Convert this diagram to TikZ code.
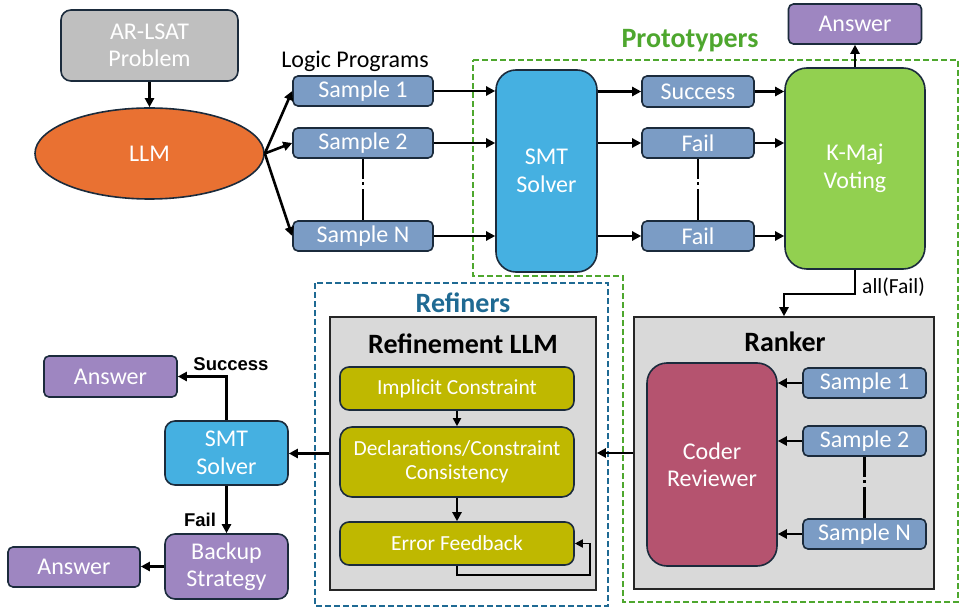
\documentclass[tikz,border=0pt]{standalone}
\usepackage{fontspec}
\setmainfont{Carlito}
\newfontfamily\lblfont{Liberation Sans}
\usetikzlibrary{arrows.meta,shapes.geometric}
\definecolor{bordc}{HTML}{1B2B3C}
\definecolor{grayfill}{HTML}{BFBFBF}
\definecolor{llmorange}{HTML}{E97132}
\definecolor{sampblue}{HTML}{7B9CC5}
\definecolor{smtblue}{HTML}{45B0E1}
\definecolor{kgreen}{HTML}{92D050}
\definecolor{anspurple}{HTML}{9E86C1}
\definecolor{coderred}{HTML}{B5536F}
\definecolor{olive}{HTML}{BFB800}
\definecolor{panelgray}{HTML}{D9D9D9}
\definecolor{protogreen}{HTML}{4EA72E}
\definecolor{refteal}{HTML}{1F6A93}
\tikzset{
  box/.style={draw=bordc, line width=1.6pt, rounded corners=5pt, text=white,
    font=\fontsize{24}{27.5}\selectfont, inner sep=0pt, align=center},
  sampbox/.style={box, fill=sampblue, minimum width=140pt, minimum height=30pt},
  rsampbox/.style={box, fill=sampblue, minimum width=123pt, minimum height=30pt},
  ansbox/.style={box, fill=anspurple, minimum width=133pt, minimum height=40pt},
  olivebox/.style={box, fill=olive, rounded corners=9pt, minimum width=234pt,
    font=\fontsize{21.5}{24.5}\selectfont},
  panel/.style={draw=black!85, line width=1.6pt, fill=panelgray},
  arr/.style={line width=2.6pt, -{Triangle[length=9pt,width=9pt]}},
  thinarr/.style={line width=1.8pt, -{Triangle[length=8pt,width=8pt]}},
  dashdotline/.style={line width=2.6pt, dash pattern=on 20pt off 3.5pt on 2.5pt off 4pt on 50pt off 2pt},
  boldlabel/.style={font=\bfseries\fontsize{28}{32}\selectfont, inner sep=0pt},
  smalllabel/.style={font=\lblfont\bfseries\fontsize{18.5}{22}\selectfont, inner sep=0pt},
}
\begin{document}
\begin{tikzpicture}[x=1pt,y=-1pt]
\useasboundingbox[fill=white] (0,0) rectangle (965,609);

% group frames
\draw[protogreen, line width=1.5pt, dash pattern=on 6pt off 3pt]
  (473,60) -- (958,60) -- (958,602) -- (623,602) -- (623,276) -- (473,276) -- cycle;
\draw[refteal, line width=1.5pt, dash pattern=on 6pt off 3pt] (315,283) rectangle (608,606);
\node[boldlabel, text=protogreen] (protolbl) at (690,41) {Prototypers};
\node[boldlabel, text=refteal] (reflbl) at (463,303) {Refiners};

% top row
\node[box, fill=grayfill, rounded corners=10pt, minimum width=177pt, minimum height=71pt] (arlsat) at (149.5,45.5) {AR-LSAT\\Problem};
\node[draw=bordc, line width=1.6pt, fill=llmorange, ellipse, minimum width=229pt, minimum height=91pt, inner sep=0pt,
  text=white, font=\fontsize{24}{27.5}\selectfont] (llm) at (149.5,153.5) {LLM};
\node[font=\fontsize{24}{27.5}\selectfont, inner sep=0pt] (lp) at (355,61) {Logic Programs};
\node[sampbox] (s1) at (363,91) {Sample 1};
\node[sampbox] (s2) at (363,143) {Sample 2};
\node[sampbox] (sN) at (363,236) {Sample N};

\node[box, fill=smtblue, rounded corners=20pt, minimum width=101pt, minimum height=202pt] (smt1) at (546.5,171) {SMT\\Solver};
\node[sampbox, minimum width=112pt, minimum height=31pt] (succ) at (698,91.5) {Success};
\node[sampbox, minimum width=112pt] (f1) at (698,143) {Fail};
\node[sampbox, minimum width=112pt] (f2) at (698,236) {Fail};
\node[box, fill=kgreen, rounded corners=22pt, minimum width=140pt, minimum height=201pt] (kmaj) at (855,168.5) {K-Maj\\Voting};
\node[ansbox] (ans1) at (855,24) {Answer};

% ranker
\node[panel, minimum width=300pt, minimum height=272pt, inner sep=0pt] (ranker) at (784,453) {};
\node[boldlabel] (rankerlbl) at (785,342) {Ranker};
\node[box, fill=coderred, rounded corners=20pt, minimum width=130pt, minimum height=203pt] (coder) at (712,464.5) {Coder\\Reviewer};
\node[rsampbox] (rs1) at (864.5,383) {Sample 1};
\node[rsampbox] (rs2) at (864.5,441) {Sample 2};
\node[rsampbox] (rsN) at (864.5,534) {Sample N};

% refinement LLM
\node[panel, minimum width=266pt, minimum height=273pt, inner sep=0pt] (refllm) at (463,453.5) {};
\node[boldlabel] (refllmlbl) at (463,344) {Refinement LLM};
\node[olivebox, minimum height=43pt] (imp) at (457,388.5) {Implicit Constraint};
\node[olivebox, rounded corners=12pt, minimum height=70pt] (decl) at (457,462) {Declarations/Constraint\\Consistency};
\node[olivebox, minimum height=43pt] (err) at (457,543.5) {Error Feedback};

% bottom-left
\node[box, fill=smtblue, rounded corners=10pt, minimum width=123pt, minimum height=64pt] (smt2) at (226.5,453) {SMT\\Solver};
\node[ansbox, minimum height=41pt] (ans2) at (110.5,376.5) {Answer};
\node[box, fill=anspurple, rounded corners=10pt, minimum width=123pt, minimum height=65pt] (backup) at (226.5,566.5) {Backup\\Strategy};
\node[ansbox, minimum width=132pt] (ans3) at (74,567) {Answer};
\node[smalllabel] (succlbl) at (231,364) {Success};
\node[smalllabel] (faillbl) at (200,520) {Fail};

% connectors
\draw[arr] (arlsat.south) -- (llm.north);
\draw[arr] (llm.east) -- (s1.west);
\draw[arr] (llm.east) -- (s2.west);
\draw[arr] (llm.east) -- (sN.west);
\draw[dashdotline] (s2.south) -- (sN.north);
\draw[arr] (s1.east) -- (s1.east -| smt1.west);
\draw[arr] (s2.east) -- (s2.east -| smt1.west);
\draw[arr] (sN.east) -- (sN.east -| smt1.west);
\draw[arr] (succ.west -| smt1.east) -- (succ.west);
\draw[arr] (f1.west -| smt1.east) -- (f1.west);
\draw[arr] (f2.west -| smt1.east) -- (f2.west);
\draw[dashdotline] (f1.south) -- (f2.north);
\draw[arr] (succ.east) -- (succ.east -| kmaj.west);
\draw[arr] (f1.east) -- (f1.east -| kmaj.west);
\draw[arr] (f2.east) -- (f2.east -| kmaj.west);
\draw[arr] (kmaj.north) -- (ans1.south);
\draw[arr] (kmaj.south) -- ++(0,24) -| (ranker.north);
\node[font=\fontsize{21.5}{24}\selectfont, inner sep=0pt, anchor=west] (allfail) at (862,287) {all(Fail)};

\draw[arr] (rs1.west) -- (rs1.west -| coder.east);
\draw[arr] (rs2.west) -- (rs2.west -| coder.east);
\draw[arr] (rsN.west) -- (rsN.west -| coder.east);
\draw[dashdotline] (rs2.south) -- (rsN.north);
\draw[arr] (ranker.west) -- (ranker.west -| refllm.east);

\draw[thinarr] (imp.south) -- (decl.north);
\draw[arr] (decl.south) -- (err.north);
\draw[thinarr] (err.south) -- ++(0,9) -| ([xshift=15pt]err.east) -- (err.east);

\draw[arr] (refllm.west) -- (refllm.west -| smt2.east);
\draw[arr] (smt2.north) |- (ans2.east);
\draw[arr] (smt2.south) -- (backup.north);
\draw[arr] (backup.west) -- (backup.west -| ans3.east);
\end{tikzpicture}
\end{document}
